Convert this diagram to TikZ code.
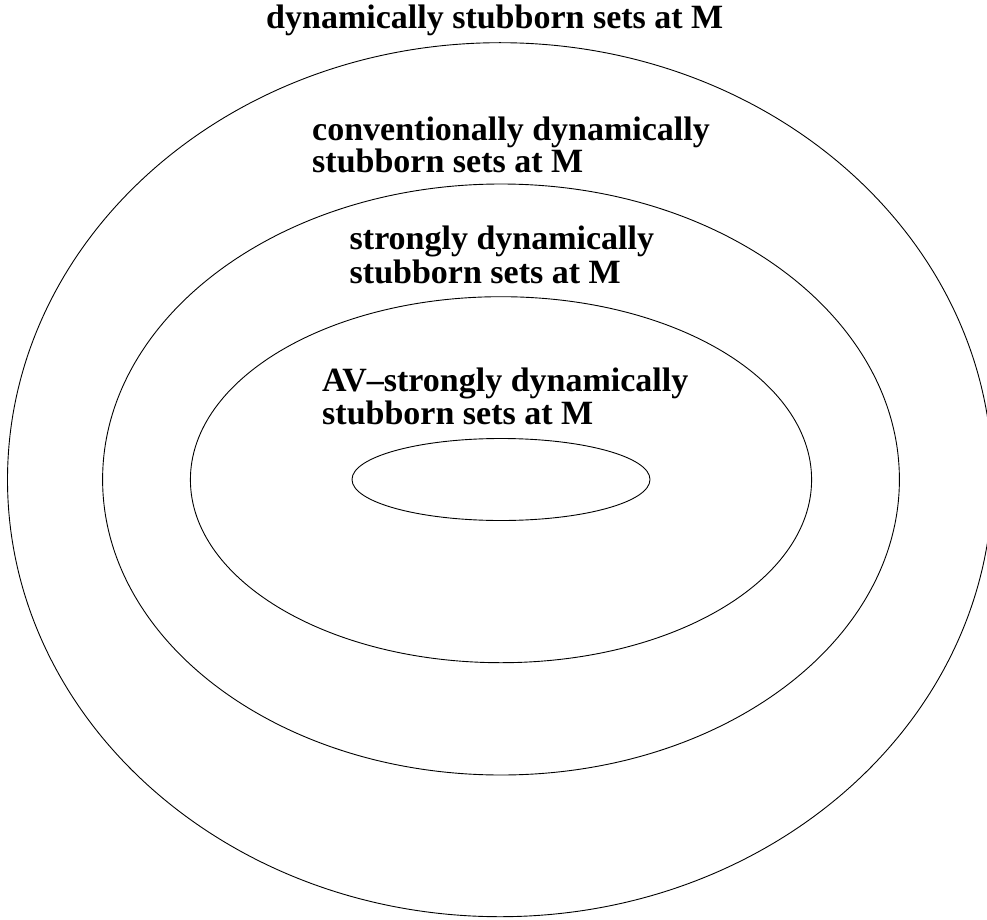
\documentclass[tikz,border=0pt]{standalone}
\usepackage{fontspec}
\setmainfont{Liberation Serif}
\begin{document}
\begin{tikzpicture}[x=1pt,y=-1pt,
  ring/.style={draw=black,line width=0.9pt},
  lbl/.style={anchor=base west,inner sep=0pt,align=left,font=\fontsize{34}{32}\selectfont\bfseries}]
\useasboundingbox (0,0) rectangle (987,920);
\clip (0,0) rectangle (987,920);
\draw[ring] (500,479.7) ellipse [x radius=492.5, y radius=437];
\draw[ring] (501,479.5) ellipse [x radius=398.4, y radius=295.5];
\draw[ring] (501,479.7) ellipse [x radius=310.6, y radius=183];
\draw[ring] (501,479.5) ellipse [x radius=149, y radius=41];
\node[lbl] (t1) at (266,29) {dynamically stubborn sets at M};
\node[lbl,font=\fontsize{34}{30.6}\selectfont\bfseries] (t2) at (312,172.3) {conventionally dynamically\\stubborn sets at M};
\node[lbl,font=\fontsize{34}{34}\selectfont\bfseries] (t3) at (349.5,283) {strongly dynamically\\stubborn sets at M};
\node[lbl,font=\fontsize{34}{32.6}\selectfont\bfseries] (t4) at (322,424.3) {AV–strongly dynamically\\stubborn sets at M};
\end{tikzpicture}
\end{document}
